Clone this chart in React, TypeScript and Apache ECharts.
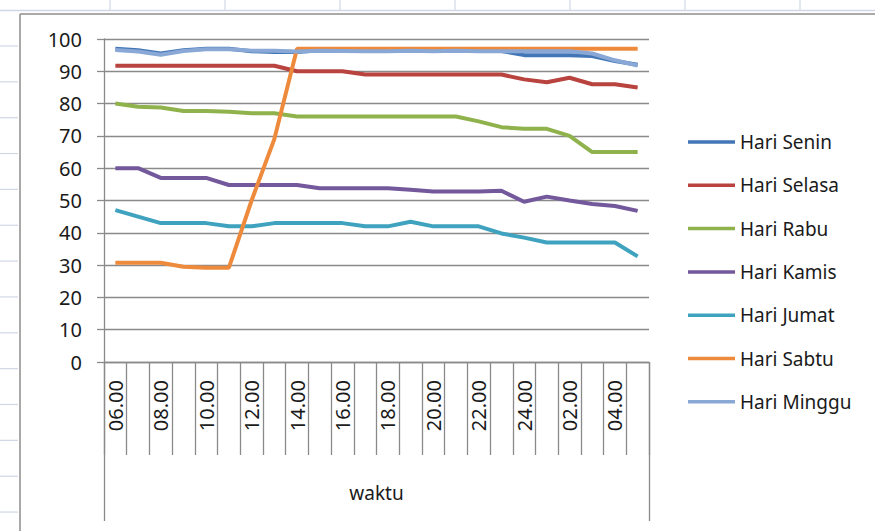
import React, { useEffect, useRef } from "react";
import * as echarts from "echarts";

const categories = [
  "06.00", "07.00", "08.00", "09.00", "10.00", "11.00", "12.00", "13.00",
  "14.00", "15.00", "16.00", "17.00", "18.00", "19.00", "20.00", "21.00",
  "22.00", "23.00", "24.00", "01.00", "02.00", "03.00", "04.00", "05.00",
];

const seninValues = [97, 96.5, 95.5, 96.5, 97, 97, 96.2, 96, 96, 96.5, 96.5, 96.5, 96.5, 96.5, 96.5, 96.5, 96.5, 96.3, 95, 95, 95, 94.7, 93.2, 92];
const selasaValues = [91.7, 91.7, 91.7, 91.7, 91.7, 91.7, 91.7, 91.7, 90, 90, 90, 89, 89, 89, 89, 89, 89, 89, 87.5, 86.6, 88, 86, 86, 85];
const rabuValues = [80, 79, 78.8, 77.7, 77.7, 77.5, 77, 77, 76, 76, 76, 76, 76, 76, 76, 76, 74.5, 72.7, 72.2, 72.2, 70, 65, 65, 65];
const kamisValues = [60, 60, 57, 57, 57, 54.8, 54.8, 54.8, 54.8, 53.8, 53.8, 53.8, 53.8, 53.3, 52.8, 52.8, 52.8, 53, 49.6, 51.2, 50, 48.9, 48.3, 46.8];
const jumatValues = [47, 45, 43, 43, 43, 42, 42, 43, 43, 43, 43, 42, 42, 43.4, 42, 42, 42, 39.8, 38.5, 37, 37, 37, 37, 32.7];
const sabtuValues = [30.7, 30.7, 30.7, 29.5, 29.2, 29.2, 50, 69, 97, 97, 97, 97, 97, 97, 97, 97, 97, 97, 97, 97, 97, 97, 97, 97];
const mingguValues = [96.6, 96.1, 95.1, 96.3, 96.8, 96.8, 96.4, 96.4, 96.1, 96.4, 96.3, 96.2, 96.2, 96.4, 96.2, 96.4, 96.2, 96.2, 96.2, 96.2, 96.2, 95.5, 93.4, 91.8];

const seriesNames = ["Hari Senin", "Hari Selasa", "Hari Rabu", "Hari Kamis", "Hari Jumat", "Hari Sabtu", "Hari Minggu"];
const seriesColors = ["#4276B6", "#B8433F", "#90B24C", "#74589C", "#3FA3BF", "#EE8A3C", "#8AA8D6"];
const seriesValues = [seninValues, selasaValues, rabuValues, kamisValues, jumatValues, sabtuValues, mingguValues];

const axisName = "waktu";
const FONT = "'Noto Sans', sans-serif";
const TEXT = "#1a1a1a";
const AXIS = "#8a8a8a";

function sheetDecorations() {
  const els: any[] = [];
  const sheet = "#d0d7e5";
  els.push({ type: "line", shape: { x1: 0, y1: 10.5, x2: 875, y2: 10.5 }, style: { stroke: sheet, lineWidth: 1.5 }, silent: true });
  for (let x = 110; x < 875; x += 115) {
    els.push({ type: "line", shape: { x1: x, y1: 0, x2: x, y2: 11 }, style: { stroke: sheet, lineWidth: 1.2 }, silent: true });
  }
  for (let y = 46; y < 531; y += 35.85) {
    els.push({ type: "line", shape: { x1: 0, y1: y, x2: 18, y2: y }, style: { stroke: sheet, lineWidth: 1.2 }, silent: true });
  }
  els.push({ type: "line", shape: { x1: 20, y1: 14, x2: 875, y2: 14 }, style: { stroke: "#8c8c8c", lineWidth: 1.5 }, silent: true });
  els.push({ type: "line", shape: { x1: 20, y1: 14, x2: 20, y2: 531 }, style: { stroke: "#8c8c8c", lineWidth: 1.5 }, silent: true });
  return els;
}

export default function App() {
  const ref = useRef<HTMLDivElement>(null);
  useEffect(() => {
    if (!ref.current) return;
    const chart = echarts.init(ref.current, null, { renderer: "svg" });
    chart.setOption({
      animation: false,
      backgroundColor: "#ffffff",
      textStyle: { fontFamily: FONT },
      graphic: sheetDecorations(),
      grid: { left: 104, right: 226, top: 39, bottom: 169, containLabel: false },
      legend: {
        orient: "vertical",
        left: 683,
        top: 127,
        icon: "rect",
        itemWidth: 47,
        itemHeight: 3.5,
        itemGap: 23.3,
        data: seriesNames,
        textStyle: { fontFamily: FONT, fontSize: 19, color: TEXT, lineHeight: 20 },
      },
      xAxis: [
        {
          type: "category",
          data: categories,
          boundaryGap: true,
          axisLine: { show: true, lineStyle: { color: AXIS, width: 1.3 } },
          axisTick: { show: true, interval: 0, length: 93, inside: false, lineStyle: { color: AXIS, width: 1.3 } },
          axisLabel: { interval: 1, rotate: 90, margin: 18, fontFamily: FONT, fontSize: 20, color: TEXT },
          splitLine: { show: false },
        },
        {
          type: "category",
          data: [axisName],
          position: "bottom",
          boundaryGap: true,
          axisLine: { show: false },
          axisTick: { show: true, interval: 0, length: 159, lineStyle: { color: AXIS, width: 1.3 } },
          axisLabel: { margin: 121, fontFamily: FONT, fontSize: 19, color: TEXT },
          splitLine: { show: false },
        },
      ],
      yAxis: {
        type: "value",
        min: 0,
        max: 100,
        interval: 10,
        axisLine: { show: true, lineStyle: { color: AXIS, width: 1.3 } },
        axisTick: { show: true, length: 7, lineStyle: { color: AXIS, width: 1.3 } },
        axisLabel: { margin: 22, fontFamily: FONT, fontSize: 20, color: TEXT },
        splitLine: { show: true, lineStyle: { color: AXIS, width: 1.3 } },
      },
      series: seriesNames.map((name, i) => ({
        name,
        type: "line",
        xAxisIndex: 0,
        data: seriesValues[i],
        symbol: "none",
        showSymbol: false,
        lineStyle: { color: seriesColors[i], width: 4 },
        itemStyle: { color: seriesColors[i] },
      })),
    });
    return () => chart.dispose();
  }, []);
  return <div ref={ref} style={{ width: 875, height: 531, position: "absolute", left: 0, top: 0 }} />;
}
